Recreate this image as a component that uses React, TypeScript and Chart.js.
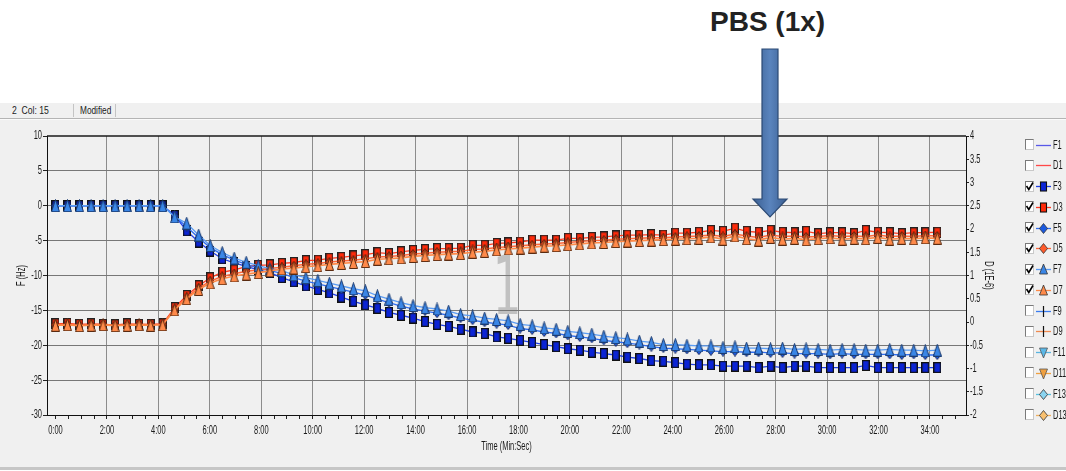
import React, { useEffect, useRef } from 'react';
import { Chart, registerables } from 'chart.js';

Chart.register(...registerables);

// ---------- data ----------
const timeSec = [
  0, 28, 56, 83, 111, 139, 167, 195, 222, 250,
  278, 306, 334, 361, 389, 417, 445, 473, 500, 528,
  556, 584, 612, 639, 667, 695, 723, 751, 778, 806,
  834, 862, 890, 917, 945, 973, 1001, 1029, 1056, 1084,
  1112, 1140, 1168, 1195, 1223, 1251, 1279, 1307, 1334, 1362,
  1390, 1418, 1446, 1473, 1501, 1529, 1557, 1585, 1612, 1640,
  1668, 1696, 1724, 1751, 1779, 1807, 1835, 1863, 1890, 1918,
  1946, 1974, 2002, 2029, 2057,
];

const F3 = [
  0, 0, 0, 0, 0, 0, 0, 0, 0, 0,
  -1.4, -3.6, -5.2, -6.5, -7.6, -8.2, -8.7, -9.2, -9.6, -10.3,
  -10.9, -11.5, -12.0, -12.5, -13.1, -13.7, -14.2, -14.7, -15.3, -15.7,
  -16.1, -16.6, -17.0, -17.3, -17.7, -18.1, -18.3, -18.8, -19.0, -19.3,
  -19.6, -19.9, -20.2, -20.5, -20.7, -21.0, -21.2, -21.4, -21.7, -21.9,
  -22.2, -22.3, -22.5, -22.7, -22.8, -22.8, -23.0, -23.0, -23.0, -23.2,
  -23.0, -23.2, -23.0, -23.0, -23.2, -23.2, -23.2, -23.2, -22.9, -23.2,
  -23.2, -23.2, -23.2, -23.2, -23.2,
];

const F5 = [
  0, 0, 0, 0, 0, 0, 0, 0, 0, 0,
  -1.5, -3.0, -4.6, -6.0, -7.0, -7.8, -8.4, -8.9, -9.3, -9.7,
  -10.3, -10.8, -11.2, -11.6, -12.0, -12.4, -12.8, -13.4, -13.9, -14.4,
  -14.8, -15.1, -15.4, -15.7, -16.1, -16.4, -16.7, -16.9, -17.1, -17.6,
  -17.8, -18.1, -18.3, -18.6, -18.8, -19.0, -19.3, -19.5, -19.7, -19.9,
  -20.2, -20.4, -20.5, -20.6, -20.7, -20.8, -20.9, -20.9, -21.0, -21.0,
  -21.1, -21.1, -21.2, -21.2, -21.2, -21.3, -21.2, -21.3, -21.3, -21.3,
  -21.3, -21.4, -21.3, -21.4, -21.4,
];

const F7 = [
  0, 0, 0, 0, 0, 0, 0, 0, 0, 0,
  -1.6, -2.5, -4.2, -5.7, -6.7, -7.5, -8.1, -8.6, -9.0, -9.3,
  -9.9, -10.3, -10.7, -11.1, -11.5, -11.9, -12.2, -12.9, -13.4, -13.9,
  -14.3, -14.6, -14.8, -15.1, -15.6, -15.8, -16.1, -16.3, -16.5, -17.0,
  -17.2, -17.5, -17.7, -18.0, -18.2, -18.4, -18.7, -18.9, -19.1, -19.4,
  -19.6, -19.9, -19.9, -20.0, -20.1, -20.1, -20.3, -20.2, -20.4, -20.4,
  -20.5, -20.4, -20.6, -20.5, -20.6, -20.7, -20.6, -20.6, -20.7, -20.7,
  -20.6, -20.7, -20.7, -20.8, -20.7,
];

const D3 = [
  -0.04, -0.03, -0.05, -0.04, -0.05, -0.06, -0.04, -0.05, -0.05, -0.04,
  0.31, 0.57, 0.78, 0.95, 1.07, 1.12, 1.19, 1.22, 1.23, 1.26,
  1.28, 1.32, 1.33, 1.37, 1.39, 1.42, 1.45, 1.49, 1.47, 1.51,
  1.54, 1.56, 1.58, 1.58, 1.59, 1.65, 1.65, 1.69, 1.70, 1.72,
  1.76, 1.76, 1.76, 1.80, 1.80, 1.82, 1.83, 1.85, 1.87, 1.87,
  1.88, 1.87, 1.91, 1.91, 1.93, 1.97, 1.95, 2.02, 1.95, 1.93,
  1.97, 1.93, 1.92, 1.95, 1.90, 1.92, 1.92, 1.90, 1.97, 1.93,
  1.92, 1.90, 1.92, 1.92, 1.93,
];

const D5 = [
  -0.06, -0.05, -0.07, -0.06, -0.05, -0.07, -0.06, -0.05, -0.06, -0.05,
  0.28, 0.53, 0.73, 0.88, 0.98, 1.04, 1.09, 1.12, 1.15, 1.18,
  1.21, 1.24, 1.26, 1.29, 1.31, 1.33, 1.36, 1.40, 1.41, 1.43,
  1.46, 1.48, 1.50, 1.51, 1.52, 1.56, 1.57, 1.60, 1.62, 1.64,
  1.66, 1.68, 1.69, 1.71, 1.73, 1.75, 1.76, 1.78, 1.79, 1.80,
  1.81, 1.81, 1.83, 1.84, 1.85, 1.87, 1.84, 1.89, 1.85, 1.82,
  1.87, 1.84, 1.85, 1.83, 1.84, 1.86, 1.84, 1.85, 1.84, 1.87,
  1.84, 1.85, 1.84, 1.86, 1.85,
];

const D7 = [
  -0.07, -0.06, -0.08, -0.07, -0.06, -0.08, -0.07, -0.06, -0.07, -0.06,
  0.26, 0.50, 0.70, 0.84, 0.93, 0.99, 1.03, 1.06, 1.10, 1.14,
  1.16, 1.19, 1.21, 1.24, 1.26, 1.28, 1.30, 1.35, 1.36, 1.38,
  1.41, 1.43, 1.45, 1.46, 1.47, 1.50, 1.52, 1.55, 1.57, 1.59,
  1.61, 1.63, 1.64, 1.66, 1.68, 1.70, 1.71, 1.73, 1.74, 1.75,
  1.76, 1.77, 1.78, 1.79, 1.80, 1.83, 1.78, 1.85, 1.79, 1.76,
  1.82, 1.78, 1.80, 1.77, 1.79, 1.81, 1.78, 1.80, 1.79, 1.82,
  1.78, 1.80, 1.79, 1.81, 1.80,
];

const xTickLabels = [
  '0:00', '2:00', '4:00', '6:00', '8:00', '10:00', '12:00', '14:00', '16:00',
  '18:00', '20:00', '22:00', '24:00', '26:00', '28:00', '30:00', '32:00', '34:00',
];

const legendNames = ['F1', 'D1', 'F3', 'D3', 'F5', 'D5', 'F7', 'D7', 'F9', 'D9', 'F11', 'D11', 'F13', 'D13'];
const legendChecked = [false, false, true, true, true, true, true, true, false, false, false, false, false, false];
const legendShapes = ['none', 'none', 'rect', 'rect', 'diamond', 'diamond', 'tri', 'tri', 'plus', 'plus', 'itri', 'itri', 'diamond', 'diamond'];
const legendLineColors = ['#5858e8', '#ff4848', '#1f3fe6', '#ff3a20', '#2f6ef0', '#ff6638', '#5a9cf4', '#ff8a48', '#3a7cf0', '#f08a50', '#5ab4e0', '#f0a040', '#58c0e0', '#f0b060'];
const legendFillColors = ['', '', '#0b24d6', '#ff2a0a', '#1a5ae0', '#ff5a2a', '#3a86e6', '#ff8a4a', '#000', '#000', '#5ab8e8', '#f0a040', '#8ad4f0', '#f8c070'];

const FONT = "'Liberation Sans', Arial, sans-serif";
const TEXT_SQUEEZE = 0.6;

function makeMarker(shape: string, fill: string, stroke: string, w: number, h: number, lw: number) {
  const c = document.createElement('canvas');
  c.width = w;
  c.height = h;
  const g = c.getContext('2d')!;
  g.fillStyle = fill;
  g.strokeStyle = stroke;
  g.lineWidth = lw;
  const o = lw / 2;
  g.beginPath();
  if (shape === 'rect') {
    g.rect(o, o, w - lw, h - lw);
  } else if (shape === 'tri') {
    g.moveTo(w / 2, o);
    g.lineTo(w - o, h - o);
    g.lineTo(o, h - o);
    g.closePath();
  } else {
    g.moveTo(w / 2, o);
    g.lineTo(w - o, h / 2);
    g.lineTo(w / 2, h - o);
    g.lineTo(o, h / 2);
    g.closePath();
  }
  g.fill();
  g.stroke();
  return c;
}

const framePlugin = {
  id: 'frameTop',
  beforeDatasetsDraw(chart: any) {
    const { ctx, chartArea } = chart;
    ctx.save();
    ctx.strokeStyle = '#1a1a1a';
    ctx.lineWidth = 1.5;
    ctx.beginPath();
    ctx.moveTo(chartArea.left, chartArea.top);
    ctx.lineTo(chartArea.right, chartArea.top);
    ctx.stroke();
    ctx.restore();
  },
};

function LegendIcon({ shape, line, fill }: { shape: string; line: string; fill: string }) {
  return (
    <svg width={15} height={13} style={{ display: 'block' }}>
      <line x1={0} y1={6.5} x2={15} y2={6.5} stroke={line} strokeWidth={1.3} />
      {shape === 'rect' && <rect x={4.5} y={2} width={6} height={9} fill={fill} stroke="#111" strokeWidth={1.1} />}
      {shape === 'diamond' && <polygon points="7.5,1.5 11.5,6.5 7.5,11.5 3.5,6.5" fill={fill} stroke="#333" strokeWidth={0.8} />}
      {shape === 'tri' && <polygon points="7.5,1 11.5,11 3.5,11" fill={fill} stroke="#333" strokeWidth={0.8} />}
      {shape === 'itri' && <polygon points="3.5,2 11.5,2 7.5,12" fill={fill} stroke="#555" strokeWidth={0.8} />}
      {shape === 'plus' && <line x1={7.5} y1={1} x2={7.5} y2={12} stroke="#111" strokeWidth={1.2} />}
    </svg>
  );
}

const squeezed = (scale: number): React.CSSProperties => ({
  transform: `scaleX(${scale})`,
  transformOrigin: 'left center',
  whiteSpace: 'pre',
});

export default function App() {
  const ref = useRef<HTMLCanvasElement>(null);

  useEffect(() => {
    if (!ref.current) return;
    // narrow text rendering (the reference uses a tall condensed UI font)
    const c2d: any = ref.current.getContext('2d');
    const origFill = c2d.fillText;
    c2d.fillText = function (text: string, x: number, y: number, maxWidth?: number) {
      this.save();
      this.translate(x, y);
      this.scale(TEXT_SQUEEZE, 1);
      if (maxWidth === undefined) origFill.call(this, text, 0, 0);
      else origFill.call(this, text, 0, 0, maxWidth / TEXT_SQUEEZE);
      this.restore();
    };

    const pts = (arr: number[]) => arr.map((v, i) => ({ x: timeSec[i], y: v }));
    const mk = {
      F3: makeMarker('rect', '#0b24d6', '#111', 8, 11, 1.3),
      D3: makeMarker('rect', '#ff2a0a', '#222', 8, 11, 1.3),
      F5: makeMarker('diamond', '#1a5ae0', '#1a2a60', 8, 10, 1),
      D5: makeMarker('diamond', '#ff5a2a', '#5a1a0a', 8, 10, 1),
      F7: makeMarker('tri', '#3a86e6', '#1a3a70', 9, 13, 1),
      D7: makeMarker('tri', '#ff8a4a', '#5a2a10', 9, 13, 1),
    };
    const ds = (label: string, data: number[], axis: string, line: string, marker: HTMLCanvasElement, order: number, bw: number) => ({
      label,
      data: pts(data),
      yAxisID: axis,
      borderColor: line,
      backgroundColor: line,
      borderWidth: bw,
      pointStyle: marker,
      pointRadius: 5,
      tension: 0,
      order,
    });
    const xTicks: number[] = [];
    for (let s = 0; s <= 2100; s += 30) xTicks.push(s);
    const tickFont = { family: FONT, size: 12.5 };

    const chart = new Chart(ref.current, {
      type: 'line',
      data: {
        datasets: [
          ds('F3', F3, 'yF', '#1f3fe6', mk.F3, 6, 1.3),
          ds('D3', D3, 'yD', '#ff3a20', mk.D3, 5, 1.3),
          ds('F5', F5, 'yF', '#2f6ef0', mk.F5, 4, 1.3),
          ds('D5', D5, 'yD', '#ff6638', mk.D5, 3, 1.5),
          ds('F7', F7, 'yF', '#5a9cf4', mk.F7, 2, 1.3),
          ds('D7', D7, 'yD', '#ff8a48', mk.D7, 1, 1.7),
        ] as any,
      },
      options: {
        animation: false,
        responsive: false,
        maintainAspectRatio: false,
        devicePixelRatio: 1,
        layout: { padding: { top: 136, left: 0, right: 0, bottom: 0 } },
        plugins: { legend: { display: false }, tooltip: { enabled: false } },
        scales: {
          x: {
            type: 'linear',
            position: 'bottom',
            min: -19.8,
            max: 2124,
            afterBuildTicks: (scale: any) => {
              scale.ticks = xTicks.map((v) => ({ value: v }));
            },
            afterFit: (scale: any) => {
              scale.height = 56;
            },
            ticks: {
              autoSkip: false,
              maxRotation: 0,
              minRotation: 0,
              padding: 4,
              color: '#1a1a1a',
              font: tickFont,
              callback: (v: any) => (Number(v) % 120 === 0 ? xTickLabels[Number(v) / 120] : ''),
            },
            grid: {
              color: (c: any) => (c.tick && c.tick.value % 120 === 0 && c.tick.value > 0 ? '#8c8c8c' : 'rgba(0,0,0,0)'),
              borderDash: [4, 3],
              tickColor: '#222',
              tickBorderDash: [],
              tickLength: 4,
              lineWidth: 1,
            } as any,
            border: { display: true, color: '#111', width: 1 },
            title: {
              display: true,
              text: 'Time (Min:Sec)',
              color: '#1a1a1a',
              font: tickFont,
              padding: { top: 2, bottom: 17 },
            },
          },
          yF: {
            type: 'linear',
            position: 'left',
            min: -30,
            max: 10,
            afterFit: (scale: any) => {
              scale.width = 47;
            },
            ticks: {
              stepSize: 5,
              padding: 1,
              color: '#1a1a1a',
              font: tickFont,
            },
            grid: {
              color: (c: any) => (c.tick && c.tick.value < 10 && c.tick.value > -30 ? '#777777' : 'rgba(0,0,0,0)'),
              borderDash: [2, 2],
              tickColor: '#222',
              tickBorderDash: [],
              tickLength: 4,
            } as any,
            border: { display: true, color: '#111', width: 1 },
            title: {
              display: true,
              text: 'F (Hz)',
              color: '#1a1a1a',
              font: tickFont,
              padding: { top: 14, bottom: 0 },
            },
          },
          yD: {
            type: 'linear',
            position: 'right',
            min: -2,
            max: 4,
            afterFit: (scale: any) => {
              scale.width = 100;
            },
            ticks: {
              stepSize: 0.5,
              padding: 1,
              color: '#1a1a1a',
              font: tickFont,
              callback: (v: any) => String(Number(v)),
            },
            grid: {
              drawOnChartArea: false,
              tickColor: '#222',
              tickLength: 3,
            },
            border: { display: true, color: '#111', width: 1 },
            title: {
              display: true,
              text: 'D (1E-6)',
              color: '#1a1a1a',
              font: tickFont,
              padding: { top: 70, bottom: 0 },
            },
          },
        },
      } as any,
      plugins: [framePlugin],
    });
    return () => {
      chart.destroy();
      c2d.fillText = origFill;
    };
  }, []);

  const rowY = (i: number) => 145 + i * 20.77;

  return (
    <div
      style={{
        position: 'fixed',
        left: 0,
        top: 0,
        width: 1066,
        height: 471,
        background: '#ffffff',
        overflow: 'hidden',
        fontFamily: FONT,
      }}
    >
      {/* title */}
      <div
        style={{
          position: 'absolute',
          left: 710,
          top: 5,
          fontFamily: "'Liberation Sans', Arial, sans-serif",
          fontWeight: 'bold',
          fontSize: 28,
          lineHeight: '34px',
          color: '#222',
          whiteSpace: 'nowrap',
        }}
      >
        PBS (1x)
      </div>

      {/* grey panel */}
      <div style={{ position: 'absolute', left: 0, top: 103, width: 1066, height: 364, background: '#f0f0f0' }} />
      <div style={{ position: 'absolute', left: 0, top: 118, width: 1066, height: 1, background: '#b4b4b4' }} />
      <div style={{ position: 'absolute', left: 0, top: 119, width: 1066, height: 1, background: '#fafafa' }} />
      <div style={{ position: 'absolute', left: 73, top: 104, width: 1, height: 13, background: '#c4c4c4' }} />
      <div style={{ position: 'absolute', left: 115, top: 104, width: 1, height: 13, background: '#c4c4c4' }} />
      <div style={{ position: 'absolute', left: 12, top: 103, fontSize: 11.5, lineHeight: '14px', color: '#222', ...squeezed(0.75) }}>
        {'2  Col: 15'}
      </div>
      <div style={{ position: 'absolute', left: 80, top: 103, fontSize: 11.5, lineHeight: '14px', color: '#222', ...squeezed(0.72) }}>
        Modified
      </div>
      <div style={{ position: 'absolute', left: 0, top: 467, width: 1066, height: 3, background: '#c6c6c6' }} />

      {/* watermark */}
      <div
        style={{
          position: 'absolute',
          left: 507,
          top: 245,
          fontFamily: "'DejaVu Sans', sans-serif",
          fontSize: 82,
          lineHeight: '82px',
          color: 'rgba(185,185,185,0.85)',
          transform: 'translateX(-50%) scaleX(0.55)',
        }}
      >
        1
      </div>

      <canvas ref={ref} width={1066} height={471} style={{ position: 'absolute', left: 0, top: 0, width: 1066, height: 471 }} />

      {/* arrow */}
      <svg style={{ position: 'absolute', left: 750, top: 46 }} width={40} height={175}>
        <defs>
          <linearGradient id="arrowGrad" x1="0" y1="0" x2="1" y2="0">
            <stop offset="0" stopColor="#3b5f92" />
            <stop offset="0.5" stopColor="#5a84bd" />
            <stop offset="1" stopColor="#3b5f92" />
          </linearGradient>
        </defs>
        <polygon
          points="12,3 28,3 28,153 37,153 20,171 3,153 12,153"
          fill="url(#arrowGrad)"
          stroke="#2c4a74"
          strokeWidth={1.2}
        />
      </svg>

      {/* legend */}
      {legendNames.map((name, i) => (
        <React.Fragment key={name}>
          <div
            style={{
              position: 'absolute',
              left: 1025,
              top: rowY(i) - 6,
              width: 9,
              height: 11,
              background: '#fff',
              borderStyle: 'solid',
              borderWidth: 1,
              borderColor: '#7a7a7a #c8c8c8 #c8c8c8 #7a7a7a',
              boxSizing: 'border-box',
            }}
          >
            {legendChecked[i] && (
              <svg width={9} height={11} style={{ position: 'absolute', left: -1, top: -1 }}>
                <polyline points="1.5,5 3.8,8.5 8,1.5" fill="none" stroke="#000" strokeWidth={1.6} />
              </svg>
            )}
          </div>
          <div style={{ position: 'absolute', left: 1036, top: rowY(i) - 6.5 }}>
            <LegendIcon shape={legendShapes[i]} line={legendLineColors[i]} fill={legendFillColors[i]} />
          </div>
          <div
            style={{
              position: 'absolute',
              left: 1053,
              top: rowY(i) - 7.5,
              fontSize: 12.5,
              lineHeight: '15px',
              color: '#1a1a1a',
              ...squeezed(0.6),
            }}
          >
            {name}
          </div>
        </React.Fragment>
      ))}
    </div>
  );
}
